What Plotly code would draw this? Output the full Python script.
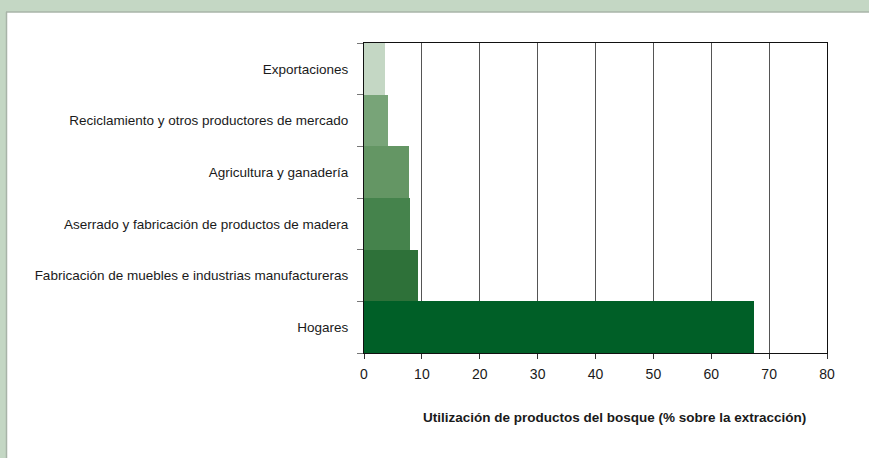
import plotly.graph_objects as go

categories = [
    "Exportaciones",
    "Reciclamiento y otros productores de mercado",
    "Agricultura y ganadería",
    "Aserrado y fabricación de productos de madera",
    "Fabricación de muebles e industrias manufactureras",
    "Hogares",
]
values = [3.6, 4.1, 7.7, 8.0, 9.4, 67.3]
bar_colors = ["#c4d7c4", "#78a478", "#649664", "#45834c", "#2e7139", "#005f27"]
x_ticks = [0, 10, 20, 30, 40, 50, 60, 70, 80]
x_title = "Utilización de productos del bosque (% sobre la extracción)"

W, H = 869, 458
L, R, T, B = 364, 827, 43, 353
pw, ph = R - L, B - T

def px(x):
    return (x - L) / pw

def py(y):
    return (B - y) / ph

FONT = "Liberation Sans Narrow, Arial Narrow, Liberation Sans, Arial, sans-serif"
FRAME_GREEN = "#c4d7c4"
FRAME_EDGE = "#a8b4a8"

fig = go.Figure(
    go.Bar(
        y=categories,
        x=values,
        orientation="h",
        marker=dict(color=bar_colors, line=dict(width=0)),
        width=1.0,
        hoverinfo="skip",
    )
)

fig.update_layout(
    width=W,
    height=H,
    margin=dict(l=L, r=W - R, t=T, b=H - B, pad=0),
    paper_bgcolor="white",
    plot_bgcolor="rgba(0,0,0,0)",
    bargap=0,
    showlegend=False,
    font=dict(family=FONT, size=13.5, color="#1a1a1a"),
    shapes=[
        dict(type="rect", xref="paper", yref="paper",
             x0=px(-10), x1=px(W + 10), y0=py(12), y1=py(-10),
             fillcolor=FRAME_GREEN, line=dict(width=0), layer="below"),
        dict(type="rect", xref="paper", yref="paper",
             x0=px(-10), x1=px(6), y0=py(H + 10), y1=py(-10),
             fillcolor=FRAME_GREEN, line=dict(width=0), layer="below"),
        dict(type="line", xref="paper", yref="paper",
             x0=px(6), x1=px(W + 10), y0=py(12), y1=py(12),
             line=dict(color=FRAME_EDGE, width=1.5), layer="below"),
        dict(type="line", xref="paper", yref="paper",
             x0=px(6.5), x1=px(6.5), y0=py(12), y1=py(H + 10),
             line=dict(color=FRAME_EDGE, width=1.5), layer="below"),
    ],
    annotations=[
        dict(text="<b>" + x_title + "</b>", xref="paper", yref="paper",
             x=px(614), y=py(417), xanchor="center", yanchor="middle",
             showarrow=False, font=dict(family=FONT, size=13.5, color="#1a1a1a")),
    ],
)

fig.update_xaxes(
    range=[0, 80],
    tickvals=x_ticks,
    ticks="outside",
    ticklen=5,
    tickcolor="#333333",
    showgrid=True,
    gridcolor="#555555",
    gridwidth=1,
    zeroline=False,
    showline=True,
    linecolor="#111111",
    linewidth=1,
    mirror=True,
    ticklabelstandoff=3,
    tickfont=dict(family=FONT, size=14, color="#1a1a1a"),
    fixedrange=True,
)

fig.update_yaxes(
    categoryorder="array",
    categoryarray=categories[::-1],
    ticks="outside",
    tickson="boundaries",
    ticklen=6,
    tickcolor="#777777",
    showgrid=False,
    showline=True,
    linecolor="#111111",
    linewidth=1,
    mirror=True,
    ticklabelstandoff=12,
    tickfont=dict(family=FONT, size=13.5, color="#1a1a1a"),
    fixedrange=True,
)

fig.write_html(
    "out.html",
    config={"displayModeBar": False},
    post_script="document.body.style.margin='0';document.body.style.padding='0';document.body.style.overflow='hidden';",
)
